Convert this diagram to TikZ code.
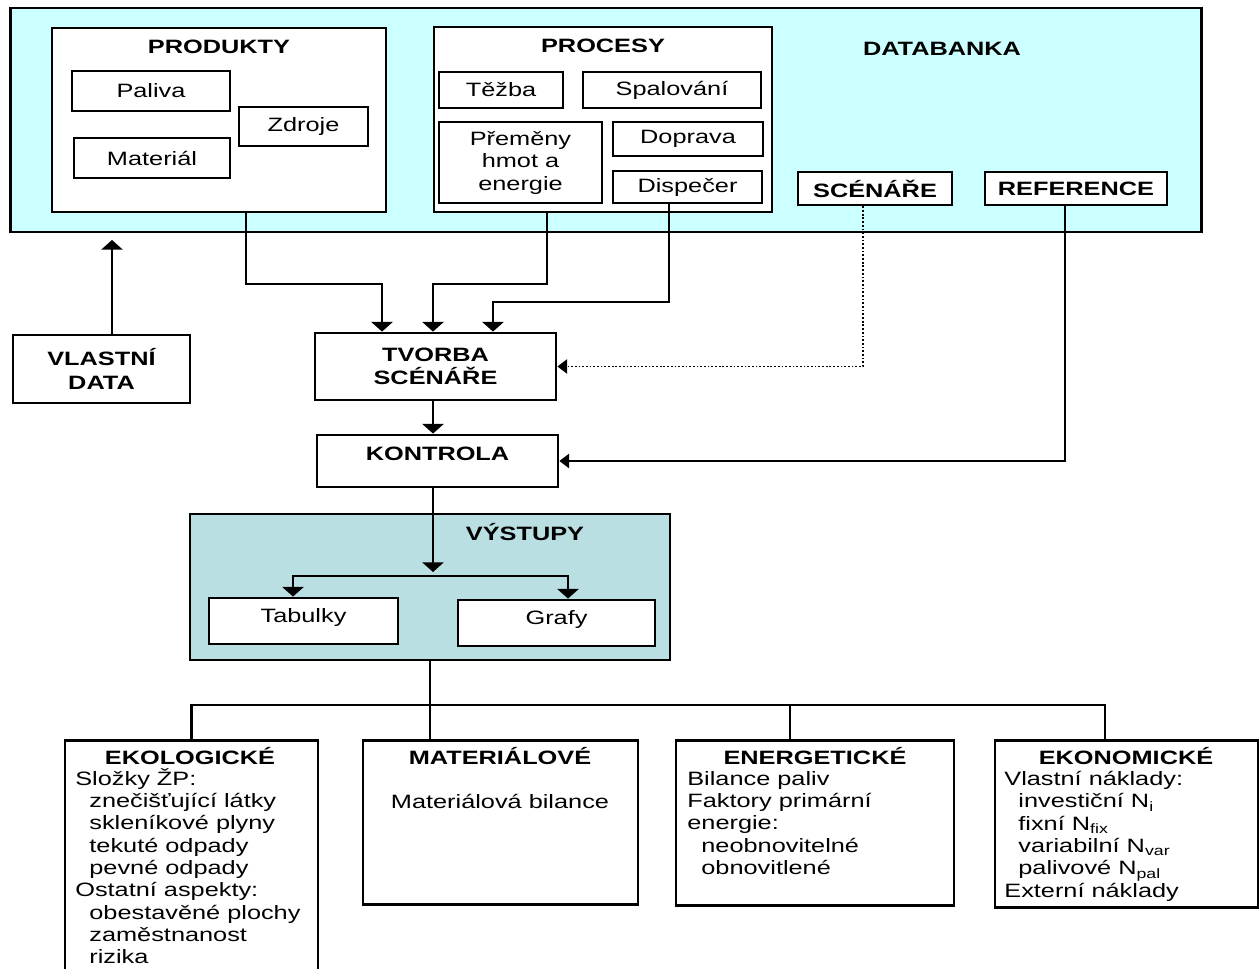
\documentclass[tikz,border=0pt]{standalone}
\usepackage{fontspec}
\setmainfont[FakeStretch=1.31]{Liberation Sans}
\usepackage{tikz}
\usetikzlibrary{arrows.meta}
\definecolor{dbcyan}{HTML}{CCFFFF}
\definecolor{outteal}{HTML}{B9DFE2}
\tikzset{>={Triangle[width=12pt,length=5.5pt]}}
\tikzset{
	every node/.style={font=\fontsize{11}{12.6}\selectfont, inner sep=0pt},
	box/.style={draw, line width=1.6pt, fill=white},
	head/.style={font=\fontsize{11}{13.4}\selectfont\bfseries},
	body/.style={anchor=north west, align=left, font=\fontsize{11}{12.7}\selectfont},
	link/.style={line width=1.4pt},
	hlink/.style={line width=1.4pt, -{Triangle[width=8pt,length=5.5pt]}},
	dotline/.style={line width=1.1pt, dash pattern=on 1pt off 1.1pt},
}

\begin{document}
\begin{tikzpicture}[x=0.02cm, y=-0.02cm]
		\useasboundingbox (0,0) rectangle (1260,969);
		\clip (0,0) rectangle (1260,969);

		\node[box, fill=dbcyan, minimum width=23.84cm, minimum height=4.48cm] (databanka) at (606,120) {};
		\node[head] (dblabel) at (942,49) {DATABANKA};

		\node[box, minimum width=6.68cm, minimum height=3.68cm] (produkty) at (219,120) {};
		\node[head] (prodlabel) at (219,47) {PRODUKTY};
		\node[box, minimum width=3.16cm, minimum height=0.8cm] (paliva) at (151,91) {Paliva};
		\node[box, minimum width=2.58cm, minimum height=0.78cm] (zdroje) at (303.5,126.5) {Zdroje};
		\node[box, minimum width=3.12cm, minimum height=0.8cm] (material) at (152,158) {Materiál};

		\node[box, minimum width=6.76cm, minimum height=3.7cm] (procesy) at (603,119.5) {};
		\node[head] (proclabel) at (603,46) {PROCESY};
		\node[box, minimum width=2.48cm, minimum height=0.72cm] (tezba) at (501,90) {Těžba};
		\node[box, minimum width=3.56cm, minimum height=0.72cm] (spalovani) at (672,90) {Spalování};
		\node[box, align=center, font=\fontsize{11}{12.8}\selectfont, minimum width=3.26cm, minimum height=1.62cm] (premeny) at (520.5,162.5) {Přeměny\\hmot a\\energie};
		\node[box, minimum width=3.0cm, minimum height=0.68cm] (doprava) at (688,139) {Doprava};
		\node[box, minimum width=2.98cm, minimum height=0.64cm] (dispecer) at (687.5,187) {Dispečer};

		\node[box, head, minimum width=3.08cm, minimum height=0.66cm] (scenare) at (875,188.5) {SCÉNÁŘE};
		\node[box, head, minimum width=3.64cm, minimum height=0.66cm] (reference) at (1076,188.5) {REFERENCE};

		\node[box, head, align=center, minimum width=3.54cm, minimum height=1.36cm] (vlastni) at (101.5,369) {VLASTNÍ\\DATA};
		\node[box, head, align=center, minimum width=4.82cm, minimum height=1.34cm] (tvorba) at (435.5,366.5) {TVORBA\\SCÉNÁŘE};
		\node[box, minimum width=4.82cm, minimum height=1.04cm] (kontrola) at (437.5,461) {};
		\node[head] (kontlabel) at (437.5,454) {KONTROLA};

		\node[box, fill=outteal, minimum width=9.6cm, minimum height=2.92cm] (vystupy) at (430,587) {};
		\node[head, anchor=base] (vystlabel) at (525,540) {VÝSTUPY};
		\node[box, text height=7pt, text depth=5pt, minimum width=3.78cm, minimum height=0.92cm] (tabulky) at (303.5,621) {Tabulky};
		\node[box, text height=7pt, text depth=5pt, minimum width=3.94cm, minimum height=0.92cm] (grafy) at (556.5,623) {Grafy};

		\begin{scope}[every node/.append style={anchor=north}]
			\node[box, minimum width=5.06cm, minimum height=5.2cm] (ekol) at (191.5,739) {};
			\node[box, minimum width=5.5cm, minimum height=3.28cm] (mater) at (500.5,739) {};
			\node[box, minimum width=5.56cm, minimum height=3.3cm] (ener) at (815,739) {};
			\node[box, minimum width=5.26cm, minimum height=3.34cm] (ekon) at (1126.5,739) {};
		\end{scope}

		\node[head, anchor=base] (ekoltitle) at (190,764) {EKOLOGICKÉ};
		\node[head, anchor=base] (matertitle) at (500,764) {MATERIÁLOVÉ};
		\node[head, anchor=base] (enertitle) at (815,764) {ENERGETICKÉ};
		\node[head, anchor=base] (ekontitle) at (1126,764) {EKONOMICKÉ};

		\node[body] (ekoltext) at (75,768) {Složky ŽP:\\
			\hspace*{8pt}znečišťující látky\\
			\hspace*{8pt}skleníkové plyny\\
			\hspace*{8pt}tekuté odpady\\
			\hspace*{8pt}pevné odpady\\
			Ostatní aspekty:\\
			\hspace*{8pt}obestavěné plochy\\
			\hspace*{8pt}zaměstnanost\\
			\hspace*{8pt}rizika};
		\node[anchor=base] (matertext) at (500,808) {Materiálová bilance};
		\node[body] (enertext) at (687,771) {Bilance paliv\\
			Faktory primární\\
			energie:\\
			\hspace*{8pt}neobnovitelné\\
			\hspace*{8pt}obnovitlené};
		\node[body] (ekontext) at (1004,771) {Vlastní náklady:\\
			\hspace*{8pt}investiční N\textsubscript{i}\\
			\hspace*{8pt}fixní N\textsubscript{fix}\\
			\hspace*{8pt}variabilní N\textsubscript{var}\\
			\hspace*{8pt}palivové N\textsubscript{pal}\\
			Externí náklady};

		\coordinate (vdtop) at (112,240);
		\coordinate (j1) at (246,284);
		\coordinate (j2) at (547,284);
		\coordinate (j3) at (669,302);
		\coordinate (j4) at (863,364);
		\coordinate (j5) at (1065,462);
		\coordinate (j6) at (433,420);
		\coordinate (split) at (433,576);
		\coordinate (bus) at (430,705);
		\coordinate (j7) at (790,705);
		\coordinate (j8) at (1105,705);

		\draw[link, ->] (vlastni.north -| vdtop) -- (vdtop);
		\draw[link, ->] (produkty.south -| j1) -- (j1) -| ([xshift=-1.07cm]tvorba.north);
		\draw[link, ->] (procesy.south -| j2) -- (j2) -| ([xshift=-0.05cm]tvorba.north);
		\draw[link, ->] (dispecer.south -| j3) -- (j3) -| ([xshift=1.15cm]tvorba.north);
		\draw[dotline, hlink, line width=1.1pt] (scenare.south -| j4) |- (tvorba.east);
		\draw[hlink] (reference.south -| j5) |- (kontrola.east);
		\draw[link, ->] (tvorba.south -| j6) -- (kontrola.north -| j6);
		\draw[link, ->] (kontrola.south -| split) -- ([yshift=0.08cm]split);
		\draw[link, ->] (split) -| ([xshift=-0.21cm]tabulky.north);
		\draw[link, ->] (split) -| ([xshift=0.23cm]grafy.north);

		\draw[link] (vystupy.south -| bus) -- (mater.north -| bus);
		\draw[link] (ekol.north) |- (bus) -- (j8) -- (ekon.north -| j8);
		\draw[link] (j7) -- (ener.north -| j7);
	\end{tikzpicture}
\end{document}
